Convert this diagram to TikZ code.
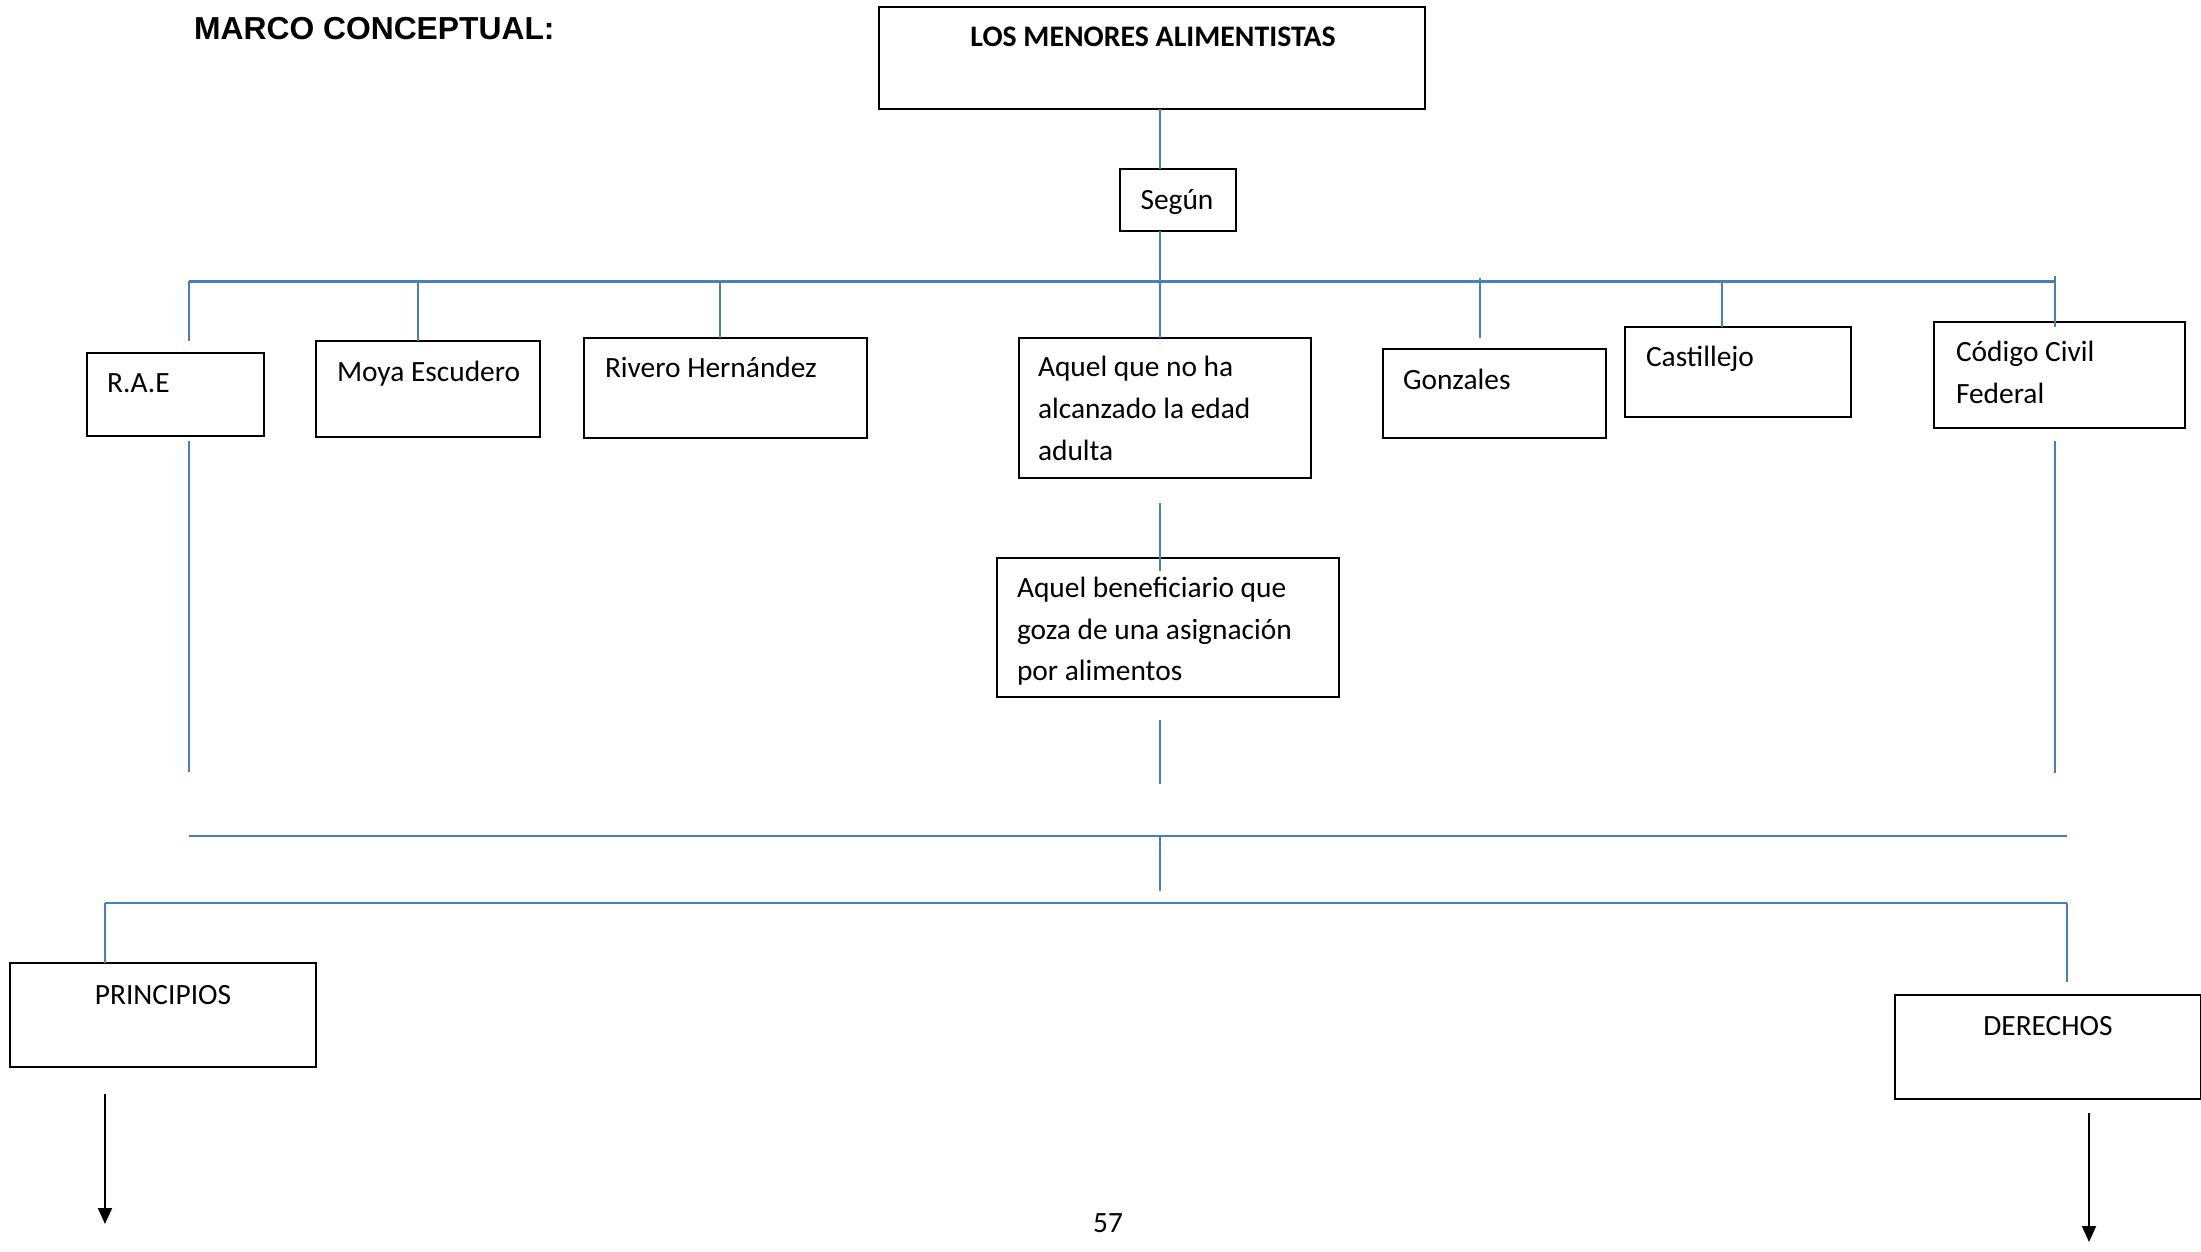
\documentclass[tikz,border=0pt]{standalone}
\usepackage{fontspec}
\setmainfont{Carlito}
\newfontfamily\arialfont{Liberation Sans}
\usetikzlibrary{arrows.meta}
\definecolor{lineblue}{RGB}{74,126,187}
\begin{document}
\begin{tikzpicture}[x=1pt,y=-1pt,
  box/.style={draw=black,line width=1.7pt,inner sep=0pt,outer sep=0pt},
  conn/.style={draw=lineblue,line width=2pt},
  bar/.style={draw=lineblue,line width=3pt},
  arr/.style={draw=black,line width=2pt,-{Triangle[width=14pt,length=16pt]}},
  txt/.style={inner sep=0pt,outer sep=0pt,font=\fontsize{29.4}{42}\selectfont,anchor=base west},
  ctxt/.style={txt,anchor=base}]
\useasboundingbox (0,0) rectangle (2201,1251);
% title
\node[anchor=base west,inner sep=0pt,font=\arialfont\bfseries\fontsize{31.8}{37}\selectfont] (title) at (194,39) {MARCO CONCEPTUAL:};
% boxes
\node[box,minimum width=546pt,minimum height=102pt] (top) at (1152,58) {};
\node[box,minimum width=116pt,minimum height=62pt] (segun) at (1178,200) {};
\node[box,minimum width=177pt,minimum height=83pt] (rae) at (175.5,394.5) {};
\node[box,minimum width=224pt,minimum height=96pt] (moya) at (428,389) {};
\node[box,minimum width=283pt,minimum height=100pt] (rivero) at (725.5,388) {};
\node[box,minimum width=292pt,minimum height=140pt] (aquel) at (1165,408) {};
\node[box,minimum width=223pt,minimum height=89pt] (gonz) at (1494.5,393.5) {};
\node[box,minimum width=226pt,minimum height=90pt] (cast) at (1738,372) {};
\node[box,minimum width=251pt,minimum height=106pt] (codigo) at (2059.5,375) {};
\node[box,minimum width=342pt,minimum height=139pt] (benef) at (1168,627.5) {};
\node[box,minimum width=306pt,minimum height=104pt] (princ) at (163,1015) {};
\node[box,minimum width=306pt,minimum height=104pt] (der) at (2048,1047) {};
% texts
\node[ctxt,font=\bfseries\fontsize{29.8}{42}\selectfont] (topt) at (1153,46) {LOS MENORES ALIMENTISTAS};
\node[ctxt] (segunt) at (1177,209) {Según};
\node[txt] (raet) at (107,392) {R.A.E};
\node[txt] (moyat) at (337,381) {Moya Escudero};
\node[txt] (riverot) at (605,377) {Rivero Hernández};
\node[txt] (aquelA) at (1038,376) {Aquel que no ha};
\node[txt] (aquelB) at (1038,418) {alcanzado la edad};
\node[txt] (aquelC) at (1038,460) {adulta};
\node[txt] (gonzt) at (1403,389) {Gonzales};
\node[txt] (castt) at (1646,366) {Castillejo};
\node[txt] (codA) at (1956,361) {Código Civil};
\node[txt] (codB) at (1956,403) {Federal};
\node[txt] (benA) at (1017,597) {Aquel beneficiario que};
\node[txt] (benB) at (1017,639) {goza de una asignación};
\node[txt] (benC) at (1017,680) {por alimentos};
\node[ctxt] (princt) at (163,1004) {PRINCIPIOS};
\node[ctxt] (dert) at (2048,1035) {DERECHOS};
\node[ctxt] (page) at (1108,1232) {57};
% coordinates
\coordinate (barL) at (189,281);
\coordinate (barR) at (2055,281);
\coordinate (spine) at (1160,0);
\coordinate (raeEnd) at (189,341);
\coordinate (gonzS) at (1480,278);
\coordinate (gonzE) at (1480,338);
\coordinate (codS) at (2055,276);
\coordinate (codE) at (2055,327);
\coordinate (raeLS) at (189,441);
\coordinate (raeLE) at (189,772);
\coordinate (codLS) at (2055,441);
\coordinate (codLE) at (2055,773);
\coordinate (aqS) at (1160,503);
\coordinate (aqE) at (1160,571);
\coordinate (bnS) at (1160,720);
\coordinate (bnE) at (1160,784);
\coordinate (l2L) at (189,836);
\coordinate (l2R) at (2067,836);
\coordinate (l2D) at (1160,891);
\coordinate (l3L) at (105,903);
\coordinate (l3R) at (2067,903);
\coordinate (derE) at (2067,982);
\coordinate (paS) at (105,1094);
\coordinate (paE) at (105,1224);
\coordinate (pbS) at (2089,1113);
\coordinate (pbE) at (2089,1242);
\coordinate (moyaX) at (418,0);
\coordinate (rivX) at (720,0);
\coordinate (castX) at (1722,0);
% blue connectors
\draw[conn] (top.south -| spine) -- (segun.north -| spine);
\draw[conn] (segun.south -| spine) -- (aquel.north -| spine);
\draw[bar] (barL) -- (barR);
\draw[conn] (barL) -- (raeEnd);
\draw[conn] (barL -| moyaX) -- (moya.north -| moyaX);
\draw[conn] (barL -| rivX) -- (rivero.north -| rivX);
\draw[conn] (gonzS) -- (gonzE);
\draw[conn] (barL -| castX) -- (cast.north -| castX);
\draw[conn] (codS) -- (codE);
\draw[conn] (raeLS) -- (raeLE);
\draw[conn] (codLS) -- (codLE);
\draw[conn] (aqS) -- (aqE);
\draw[conn] (bnS) -- (bnE);
\draw[conn] (l2L) -- (l2R);
\draw[conn] (l2L -| spine) -- (l2D);
\draw[conn] (l3L) -- (l3R);
\draw[conn] (l3L) -- (princ.north -| l3L);
\draw[conn] (l3R) -- (derE);
% black arrows
\draw[arr] (paS) -- (paE);
\draw[arr] (pbS) -- (pbE);
\end{tikzpicture}
\end{document}
